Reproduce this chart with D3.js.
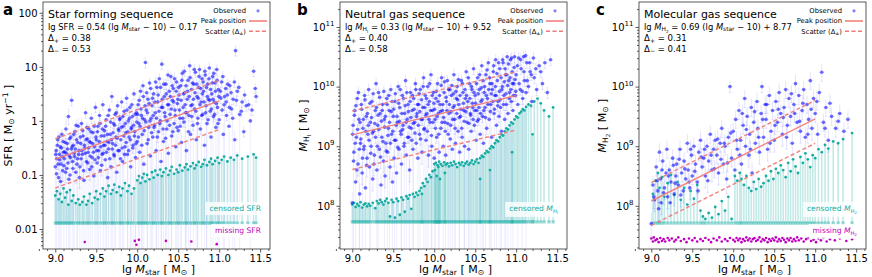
<!DOCTYPE html>
<html>
<head>
<meta charset="utf-8">
<script src="https://cdn.jsdelivr.net/npm/d3@7"></script>
<style>
  body { margin: 0; background: #fff; }
  svg { display: block; font-family: "DejaVu Sans", sans-serif; }
</style>
</head>
<body>
<svg id="chart" width="872" height="277"></svg>
<script>
// ---- data: [lg Mstar, lg value, lower error (dex)] ----
var obsA1 = [
[9.00,-0.85,3],[9.01,-0.55,.1],[9.02,-0.70,.2],[9.03,-0.35,.1],[9.04,-1.05,3],[9.05,-0.62,.15],[9.06,-0.48,.1],[9.07,-0.80,3],[9.08,-0.25,.1],[9.09,-0.92,.2],[9.10,-0.58,.1],
[9.11,-0.70,.15],[9.12,-0.40,.1],[9.13,-0.15,.2],[9.14,-0.88,3],[9.15,-0.52,.1],[9.16,0.08,.15],[9.17,-0.65,.1],[9.18,-1.00,3],[9.19,-0.30,.1],[9.20,0.38,.1],
[9.21,-0.75,.2],[9.22,-0.45,.1],[9.23,-0.60,3],[9.24,-0.20,.1],[9.25,-0.95,.2],[9.26,-0.35,.1],[9.27,-0.70,3],[9.28,-0.10,.15],[9.29,-0.55,.1],
[9.30,-0.85,3],[9.31,-0.42,.1],[9.32,-0.05,.1],[9.33,-0.62,.2],[9.34,-0.28,.1],[9.35,-1.10,3],[9.36,-0.50,.1],[9.37,0.15,.1],[9.38,-0.75,.2],[9.39,-0.33,.1],
[9.40,-0.58,3],[9.41,-0.15,.1],[9.42,-0.90,.2],[9.43,-0.40,.1],[9.44,0.05,.1],[9.45,-0.68,3],[9.46,-0.22,.1],[9.47,-1.02,.3],[9.48,-0.48,.1],[9.49,0.25,.1],
[9.50,-0.35,.1],[9.51,-0.78,3],[9.52,-0.10,.1],[9.53,-0.55,.2],[9.54,0.10,.1],[9.55,-0.92,3],[9.56,-0.28,.1],[9.57,-0.62,.2],[9.58,0.30,.1],[9.59,-0.45,.1],
[9.60,-0.18,.1],[9.61,-0.72,3],[9.62,0.02,.1],[9.63,-0.38,.15],[9.64,-1.05,.3],[9.65,-0.52,3],[9.66,0.20,.1],[9.67,-0.25,.1],[9.68,-0.85,3],[9.69,0.45,.1],
[9.70,-0.42,.15],[9.71,-0.05,.1],[9.72,-0.65,3],[9.73,0.12,.1],[9.74,-0.30,.1],[9.75,-0.95,.3],[9.76,0.28,.1],[9.77,-0.15,.1],[9.78,-0.55,3],[9.79,0.05,.1],
[9.80,-0.35,.1],[9.81,0.35,.1],[9.82,-0.75,3],[9.83,-0.10,.1],[9.84,0.18,.1],[9.85,-0.48,.2],[9.86,-0.22,.1],[9.87,0.42,.1],[9.88,-0.62,3],[9.89,0.00,.1],
[9.90,-0.30,.1],[9.91,0.25,.1],[9.92,-0.85,3],[9.93,-0.12,.1],[9.94,0.08,.1],[9.95,-0.45,3],[9.96,0.50,.1],[9.97,-0.20,.1],[9.98,-0.68,3],[9.99,0.15,.1],
[10.00,-0.38,.2],[10.01,0.30,.1],[10.02,-0.05,.1],[10.03,-0.58,3],[10.04,0.55,.1],[10.05,0.10,.1],[10.06,-0.25,3],[10.07,0.65,.1],[10.08,-0.80,3],[10.09,0.02,.1],[10.10,1.08,.1],
[10.11,0.20,.1],[10.12,-0.42,3],[10.13,0.40,.1],[10.14,-0.12,.1],[10.15,0.70,.1],[10.16,-0.65,3],[10.17,0.05,.1],[10.18,0.28,.1],[10.19,-0.30,3],
[10.20,0.50,.1],[10.21,-0.08,.1],[10.22,0.15,.1],[10.23,-0.55,3],[10.24,0.62,.1],[10.25,0.35,.1],[10.26,-0.20,3],[10.27,0.78,.1],[10.28,0.00,.1],[10.29,-0.75,3],
[10.30,1.05,.1],[10.31,0.25,.1],[10.32,-0.38,3],[10.33,0.45,.1],[10.34,0.08,.1],[10.35,0.68,.1],[10.36,-0.15,3],[10.37,0.30,.1],[10.38,-0.60,3],[10.39,0.55,.1],
[10.40,0.12,.1],[10.41,0.82,.1],[10.42,-0.28,3],[10.43,0.38,.1],[10.44,0.60,.1],[10.45,-0.05,.1],[10.46,0.20,.1],[10.47,-0.48,3],[10.48,0.72,.1],[10.49,0.32,.1],
[10.50,-0.18,3],[10.51,0.48,.1],[10.52,0.05,.1],[10.53,0.65,.1],[10.54,-0.40,3],[10.55,0.88,.1],[10.56,0.25,.1],[10.57,-0.02,.1],[10.58,0.52,.1],[10.59,0.15,3],
[10.60,-0.55,3],[10.61,0.40,.1],[10.62,0.75,.1],[10.63,0.10,.1],[10.64,1.02,.1],[10.65,-0.25,3],[10.66,0.58,.1],[10.67,0.30,.1],[10.68,-0.08,.1],[10.69,0.68,.1],
[10.70,0.22,.1],[10.71,0.90,.1],[10.72,-0.35,3],[10.73,0.45,.1],[10.74,0.05,3],[10.75,0.62,.1],[10.76,0.95,.1],[10.77,-0.15,.1],[10.78,0.35,.1],[10.79,0.78,.1],
[10.80,0.12,.1],[10.81,0.55,.1],[10.82,-0.45,3],[10.83,0.85,.1],[10.84,0.28,.1],[10.85,-0.05,3],[10.86,0.68,.1],[10.87,0.40,.1],[10.88,0.98,.1],[10.89,0.18,.1],
[10.90,-0.30,3],[10.91,0.50,.1],[10.92,0.82,.1],[10.93,0.08,.1],[10.94,0.35,.1],[10.95,0.70,.1],[10.96,-0.12,3],[10.97,0.95,.1],[10.98,0.25,.1],[10.99,0.58,.1],
[11.00,0.02,3],[11.02,0.42,.1],[11.03,0.72,.1],[11.05,-0.25,3],[11.06,0.30,.1],[11.08,0.60,.1],[11.09,0.10,.1],
[11.10,0.48,.1],[11.12,-0.10,3],[11.13,0.65,.1],[11.15,0.22,.1],[11.17,0.40,.1],[11.19,-0.35,3],
[11.20,1.30,.1],[11.22,0.55,.1],[11.25,0.12,3],[11.28,0.35,.1],[11.30,-0.20,.1],[11.33,0.28,.1],[11.38,0.00,3],[11.42,0.92,.1],[11.45,0.45,.1]
];
var obsA2 = [
[9.005,-0.62,.1],[9.015,-0.98,3],[9.025,-0.45,.1],[9.035,-0.80,.1],[9.045,-0.30,.1],[9.055,-0.72,3],[9.065,-1.12,.2],[9.075,-0.50,.1],[9.085,-0.66,.1],[9.095,-0.38,.1],
[9.105,-0.83,3],[9.115,-0.57,.1],[9.125,-0.95,.2],[9.135,-0.60,.1],[9.145,-0.42,.1],[9.155,-0.78,.1],[9.165,-1.08,3],[9.175,-0.33,.1],[9.185,-0.68,.1],[9.195,-0.52,.1],
[9.205,-0.48,.1],[9.215,-0.88,3],[9.225,-0.25,.1],[9.235,-0.66,.1],[9.245,-0.52,.2],[9.255,-0.08,.1],[9.265,-0.80,3],[9.275,-0.40,.1],[9.285,-0.62,.1],[9.295,-1.05,.2],
[9.305,-0.30,.1],[9.315,-0.70,.1],[9.325,-0.55,3],[9.335,-0.18,.1],[9.345,-0.92,.2],[9.355,-0.45,.1],[9.365,-0.60,.1],[9.375,-0.35,3],[9.385,-0.12,.1],[9.395,-0.78,.1],
[9.405,-0.50,.1],[9.415,-0.38,.1],[9.425,-0.65,3],[9.435,-0.20,.1],[9.445,-0.85,.1],[9.455,-0.42,.1],[9.465,-0.58,.2],[9.475,-0.10,.1],[9.485,-0.72,3],[9.495,-0.30,.1],
[9.505,-0.55,.1],[9.515,-0.20,.1],[9.525,-0.68,3],[9.535,-0.38,.1],[9.545,-0.05,.1],[9.555,-0.48,.1],[9.565,-0.82,.2],[9.575,-0.15,.1],[9.585,-0.60,3],[9.595,-0.28,.1],
[9.605,-0.45,.1],[9.615,-0.10,.1],[9.625,-0.58,3],[9.635,-0.25,.1],[9.645,0.10,.1],[9.655,-0.40,.1],[9.665,-0.70,.2],[9.675,-0.02,.1],[9.685,-0.35,.1],[9.695,-0.52,3],
[9.705,-0.22,.1],[9.715,-0.62,.1],[9.725,-0.08,.1],[9.735,-0.45,3],[9.745,0.15,.1],[9.755,-0.32,.1],[9.765,-0.55,.1],[9.775,-0.18,.1],[9.785,0.02,.1],[9.795,-0.70,3],
[9.805,-0.12,.1],[9.815,-0.50,.1],[9.825,0.08,.1],[9.835,-0.28,3],[9.845,-0.62,.1],[9.855,-0.05,.1],[9.865,-0.40,.1],[9.875,0.20,.1],[9.885,-0.20,3],[9.895,-0.55,.1],
[9.905,0.05,.1],[9.915,-0.35,.1],[9.925,-0.15,3],[9.935,0.30,.1],[9.945,-0.50,.1],[9.955,-0.08,.1],[9.965,-0.28,.1],[9.975,0.12,3],[9.985,-0.42,.1],[9.995,-0.02,.1],
[10.005,0.12,.1],[10.015,-0.30,3],[10.025,0.38,.1],[10.035,-0.10,.1],[10.045,0.22,.1],[10.055,-0.45,3],[10.065,0.05,.1],[10.075,0.45,.1],[10.085,-0.18,.1],[10.095,0.28,.1],
[10.105,-0.02,.1],[10.115,0.52,.1],[10.125,0.15,3],[10.135,-0.35,.1],[10.145,0.32,.1],[10.155,0.00,.1],[10.165,0.60,.1],[10.175,-0.22,3],[10.185,0.42,.1],[10.195,0.10,.1],
[10.205,-0.12,.1],[10.215,0.35,.1],[10.225,0.72,.1],[10.235,0.05,3],[10.245,-0.30,.1],[10.255,0.48,.1],[10.265,0.18,.1],[10.275,-0.05,.1],[10.285,0.62,.1],[10.295,0.25,3],
[10.305,0.40,.1],[10.315,-0.15,.1],[10.325,0.68,.1],[10.335,0.15,.1],[10.345,-0.32,3],[10.355,0.50,.1],[10.365,0.00,.1],[10.375,0.85,.1],[10.385,0.30,.1],[10.395,-0.08,.1],
[10.405,0.45,.1],[10.415,0.22,3],[10.425,0.65,.1],[10.435,-0.20,.1],[10.445,0.35,.1],[10.455,0.78,.1],[10.465,0.10,.1],[10.475,0.55,.1],[10.485,-0.12,3],[10.495,0.40,.1],
[10.505,0.62,.1],[10.515,0.20,.1],[10.525,-0.10,3],[10.535,0.38,.1],[10.545,0.75,.1],[10.555,0.05,.1],[10.565,0.50,.1],[10.575,0.92,.1],[10.585,0.30,3],[10.595,0.65,.1],
[10.605,0.15,.1],[10.615,0.55,.1],[10.625,-0.20,3],[10.635,0.45,.1],[10.645,0.80,.1],[10.655,0.28,.1],[10.665,0.08,.1],[10.675,0.70,.1],[10.685,0.40,3],[10.695,0.95,.1],
[10.705,0.52,.1],[10.715,0.18,.1],[10.725,0.68,.1],[10.735,-0.05,3],[10.745,0.42,.1],[10.755,0.82,.1],[10.765,0.30,.1],[10.775,0.60,.1],[10.785,0.10,3],[10.795,0.50,.1],
[10.805,0.72,.1],[10.815,0.35,.1],[10.825,0.92,.1],[10.835,0.15,.1],[10.845,0.62,3],[10.855,0.45,.1],[10.865,0.02,.1],[10.875,0.78,.1],[10.885,0.38,.1],[10.895,0.58,.1],
[10.905,0.22,.1],[10.915,0.70,.1],[10.925,0.40,3],[10.935,0.88,.1],[10.945,0.12,.1],[10.955,0.55,.1],[10.965,0.32,.1],[10.975,0.75,.1],[10.985,-0.05,3],[10.995,0.45,.1],
[11.015,0.55,.1],[11.035,0.20,.1],[11.045,0.82,.1],[11.065,0.45,3],[11.085,0.35,.1],[11.105,0.68,.1],[11.125,0.25,.1],[11.145,0.52,.1],[11.165,0.05,3],[11.185,0.72,.1],
[11.21,0.38,.1],[11.24,0.62,.1],[11.27,0.18,.1],[11.31,0.48,.1],[11.36,0.30,.1],[11.40,0.20,.1],[11.44,0.60,.1]
];
var censA = [
[9.00,-1.38],[9.02,-1.30],[9.04,-1.45],[9.06,-1.35],[9.08,-1.50],[9.10,-1.25],[9.12,-1.42],[9.14,-1.32],[9.16,-1.55],[9.18,-1.28],[9.20,-1.48],[9.22,-1.38],
[9.25,-1.52],[9.28,-1.45],[9.30,-1.55],[9.33,-1.50],[9.35,-1.40],[9.38,-1.55],[9.40,-1.48],[9.42,-1.35],[9.45,-1.52],[9.48,-1.42],[9.50,-1.30],[9.52,-1.45],
[9.55,-1.35],[9.58,-1.25],[9.60,-1.40],[9.62,-1.30],[9.65,-1.20],[9.68,-1.35],[9.70,-1.28],[9.72,-1.18],[9.75,-1.32],[9.78,-1.22],[9.80,-1.38],[9.82,-1.25],
[9.85,-1.15],[9.88,-1.30],[9.90,-1.20],[9.93,-1.35],[9.96,-1.25],[10.00,-1.10],[10.02,-1.02],[10.04,-1.15],[10.06,-1.05],[10.08,-0.98],[10.10,-1.12],[10.12,-1.00],
[10.15,-1.08],[10.18,-0.95],[10.20,-1.05],[10.22,-0.92],[10.25,-1.00],[10.28,-0.90],[10.30,-1.02],[10.32,-0.95],[10.35,-0.88],[10.38,-1.00],[10.40,-0.92],[10.42,-0.85],
[10.45,-0.98],[10.48,-0.90],[10.50,-0.95],[10.52,-0.82],[10.55,-0.92],[10.58,-0.86],[10.60,-0.80],[10.62,-0.90],[10.65,-0.84],[10.68,-0.78],[10.70,-0.88],[10.72,-0.82],
[10.75,-0.76],[10.78,-0.85],[10.80,-0.80],[10.82,-0.72],[10.85,-0.82],[10.88,-0.76],[10.90,-0.70],[10.92,-0.80],[10.95,-0.74],[10.98,-0.68],[11.00,-0.78],[11.03,-0.72],
[11.06,-0.66],[11.10,-0.75],[11.14,-0.68],[11.18,-0.72],[11.22,-0.64],[11.28,-0.70],[11.35,-0.66],[11.42,-0.62],[11.45,-0.68]
];
var missA = [[9.36,-2.24],[9.97,-2.22],[9.99,-2.29],[10.02,-2.20],[10.35,-2.22],[10.66,-2.23],[10.97,-2.28]];

var obsB1 = [
[9.00,8.05,3],[9.01,9.35,.1],[9.02,8.90,.15],[9.03,9.60,.1],[9.04,8.40,3],[9.05,9.15,.1],[9.06,9.80,.1],[9.07,8.70,.2],[9.08,9.45,.1],[9.09,8.20,3],[9.10,9.05,.1],
[9.11,9.70,.1],[9.12,8.55,.2],[9.13,9.30,.1],[9.14,8.95,.1],[9.15,9.85,.1],[9.16,8.30,3],[9.17,9.50,.1],[9.18,8.80,.15],[9.19,9.20,.1],
[9.20,9.95,.1],[9.21,8.65,3],[9.22,9.40,.1],[9.23,9.00,.1],[9.24,9.75,.1],[9.25,8.45,.2],[9.26,9.25,.1],[9.27,8.85,.1],[9.28,9.60,.1],[9.29,10.05,.1],
[9.30,8.60,3],[9.31,9.35,.1],[9.32,9.90,.1],[9.33,8.95,.15],[9.34,9.55,.1],[9.35,8.35,.3],[9.36,9.15,.1],[9.37,9.70,.1],[9.38,8.75,.2],[9.39,9.45,.1],
[9.40,8.50,.2],[9.41,9.05,.1],[9.42,9.80,.1],[9.43,8.90,3],[9.44,9.30,.1],[9.45,9.60,.1],[9.46,8.65,.2],[9.47,9.95,.1],[9.48,9.20,.1],[9.49,8.40,3],
[9.50,9.50,.1],[9.51,8.80,.15],[9.52,9.75,.1],[9.53,9.10,.1],[9.54,8.55,3],[9.55,9.40,.1],[9.56,10.00,.1],[9.57,8.95,.1],[9.58,9.65,.1],[9.59,9.25,.1],
[9.60,8.70,3],[9.61,9.85,.1],[9.62,9.35,.1],[9.63,9.00,.15],[9.64,9.55,.1],[9.65,10.10,.1],[9.66,8.85,3],[9.67,9.45,.1],[9.68,9.70,.1],[9.69,9.15,.1],
[9.70,8.60,.2],[9.71,9.90,.1],[9.72,9.30,.1],[9.73,9.60,.1],[9.74,8.95,3],[9.75,9.80,.1],[9.76,9.40,.1],[9.77,10.05,.1],[9.78,9.05,.15],[9.79,9.55,.1],
[9.80,8.80,3],[9.81,9.70,.1],[9.82,9.20,.1],[9.83,9.95,.1],[9.84,9.45,.1],[9.85,8.90,.2],[9.86,9.65,.1],[9.87,10.15,.1],[9.88,9.30,.1],[9.89,9.85,.1],
[9.90,9.10,3],[9.91,9.55,.1],[9.92,10.00,.1],[9.93,8.85,.2],[9.94,9.75,.1],[9.95,9.40,.1],[9.96,10.20,.1],[9.97,9.00,3],[9.98,9.60,.1],[9.99,9.90,.1],
[10.00,8.80,3],[10.01,9.45,.1],[10.02,9.80,.1],[10.03,9.15,.1],[10.04,10.05,.1],[10.05,9.55,.1],[10.06,8.90,3],[10.07,9.70,.1],[10.08,9.30,.1],[10.09,10.15,.1],
[10.10,9.60,.1],[10.11,9.00,3],[10.12,9.90,.1],[10.13,9.40,.1],[10.14,8.85,.2],[10.15,9.75,.1],[10.16,10.10,.1],[10.17,9.20,3],[10.18,9.55,.1],[10.19,9.95,.1],
[10.20,9.35,.1],[10.21,9.85,.1],[10.22,8.95,3],[10.23,9.65,.1],[10.24,10.20,.1],[10.25,9.45,.1],[10.26,9.05,3],[10.27,9.80,.1],[10.28,10.00,.1],[10.29,9.25,.1],
[10.30,9.70,.1],[10.31,8.90,3],[10.32,9.50,.1],[10.33,10.10,.1],[10.34,9.15,.1],[10.35,9.90,.1],[10.36,9.60,.1],[10.37,9.00,3],[10.38,9.80,.1],[10.39,10.25,.1],
[10.40,9.40,.1],[10.41,9.75,.1],[10.42,8.95,3],[10.43,10.05,.1],[10.44,9.55,.1],[10.45,9.25,3],[10.46,9.95,.1],[10.47,9.65,.1],[10.48,10.30,.1],[10.49,9.35,.1],
[10.50,9.85,.1],[10.51,9.10,3],[10.52,9.60,.1],[10.53,10.15,.1],[10.54,9.45,.1],[10.55,9.95,.1],[10.56,9.20,3],[10.57,9.75,.1],[10.58,10.35,.1],[10.59,9.50,.1],
[10.60,9.05,3],[10.61,9.90,.1],[10.62,9.65,.1],[10.63,10.20,.1],[10.64,9.30,.1],[10.65,9.80,.1],[10.66,10.40,.1],[10.67,9.45,3],[10.68,10.05,.1],[10.69,9.70,.1],
[10.70,9.15,3],[10.71,9.95,.1],[10.72,10.25,.1],[10.73,9.55,.1],[10.74,9.85,.1],[10.75,10.45,.1],[10.76,9.35,3],[10.77,10.10,.1],[10.78,9.75,.1],[10.79,9.50,.1],
[10.80,10.30,.1],[10.81,9.65,.1],[10.82,9.25,3],[10.83,10.00,.1],[10.84,10.40,.1],[10.85,9.85,.1],[10.86,9.45,3],[10.87,10.20,.1],[10.88,9.70,.1],[10.89,10.50,.1],
[10.90,9.55,3],[10.91,10.10,.1],[10.92,9.90,.1],[10.93,10.45,.1],[10.94,9.75,.1],[10.95,10.25,.1],[10.96,9.60,3],[10.97,10.05,.1],[10.98,10.50,.1],[10.99,9.85,.1],
[11.00,10.20,.1],[11.02,9.70,3],[11.03,10.48,.1],[11.05,9.95,.1],[11.06,10.30,.1],[11.08,9.80,.1],[11.09,10.50,.1],[11.10,10.10,.1],[11.12,9.90,3],[11.13,10.40,.1],
[11.15,10.00,.1],[11.17,10.25,.1],[11.19,9.75,.1],[11.22,10.15,.1],[11.25,9.95,.1],[11.28,10.35,.1],[11.32,10.05,.1],[11.38,9.90,.1],[11.42,10.45,.1]
];
var obsB2 = [
[9.005,9.20,.1],[9.015,8.75,3],[9.025,9.52,.1],[9.035,9.05,.1],[9.045,9.68,.1],[9.055,8.60,.2],[9.065,9.28,.1],[9.075,9.90,.1],[9.085,8.95,3],[9.095,9.40,.1],
[9.105,9.12,.1],[9.115,9.62,.1],[9.125,8.80,3],[9.135,9.45,.1],[9.145,9.00,.1],[9.155,9.78,.1],[9.165,9.25,.1],[9.175,8.68,.2],[9.185,9.55,.1],[9.195,9.35,.1],
[9.205,9.10,.1],[9.215,9.72,.1],[9.225,8.88,3],[9.235,9.48,.1],[9.245,9.22,.1],[9.255,9.88,.1],[9.265,8.70,.2],[9.275,9.38,.1],[9.285,9.15,.1],[9.295,9.65,.1],
[9.305,9.00,.1],[9.315,9.52,3],[9.325,9.28,.1],[9.335,9.82,.1],[9.345,8.82,.2],[9.355,9.42,.1],[9.365,9.60,.1],[9.375,9.08,.1],[9.385,9.92,.1],[9.395,9.32,3],
[9.405,9.50,.1],[9.415,8.92,.1],[9.425,9.70,.1],[9.435,9.18,.1],[9.445,9.85,.1],[9.455,9.40,3],[9.465,9.05,.1],[9.475,9.58,.1],[9.485,9.75,.1],[9.495,9.25,.1],
[9.505,9.62,.1],[9.515,9.10,3],[9.525,9.88,.1],[9.535,9.35,.1],[9.545,9.50,.1],[9.555,8.98,.2],[9.565,9.72,.1],[9.575,9.42,.1],[9.585,9.95,.1],[9.595,9.20,3],
[9.605,9.55,.1],[9.615,9.28,.1],[9.625,9.80,.1],[9.635,9.05,3],[9.645,9.68,.1],[9.655,9.40,.1],[9.665,9.90,.1],[9.675,9.15,.1],[9.685,9.58,.1],[9.695,9.32,3],
[9.705,9.75,.1],[9.715,9.48,.1],[9.725,9.10,.1],[9.735,9.85,.1],[9.745,9.38,3],[9.755,9.62,.1],[9.765,9.22,.1],[9.775,9.95,.1],[9.785,9.50,.1],[9.795,9.70,.1],
[9.805,9.35,.1],[9.815,9.88,.1],[9.825,9.58,3],[9.835,9.12,.1],[9.845,9.78,.1],[9.855,9.45,.1],[9.865,10.00,.1],[9.875,9.28,3],[9.885,9.65,.1],[9.895,9.52,.1],
[9.905,9.80,.1],[9.915,9.25,.1],[9.925,9.70,3],[9.935,9.45,.1],[9.945,10.05,.1],[9.955,9.60,.1],[9.965,9.18,3],[9.975,9.85,.1],[9.985,9.40,.1],[9.995,9.72,.1],
[10.005,9.62,.1],[10.015,9.30,3],[10.025,9.92,.1],[10.035,9.50,.1],[10.045,9.75,.1],[10.055,9.20,3],[10.065,9.85,.1],[10.075,9.58,.1],[10.085,10.02,.1],[10.095,9.40,.1],
[10.105,9.70,.1],[10.115,9.48,.1],[10.125,10.08,.1],[10.135,9.25,3],[10.145,9.82,.1],[10.155,9.60,.1],[10.165,9.38,.1],[10.175,9.95,.1],[10.185,9.70,.1],[10.195,9.12,3],
[10.205,9.58,.1],[10.215,10.02,.1],[10.225,9.45,.1],[10.235,9.88,.1],[10.245,9.68,3],[10.255,9.30,.1],[10.265,9.92,.1],[10.275,9.55,.1],[10.285,9.78,.1],[10.295,10.12,.1],
[10.305,9.48,3],[10.315,9.85,.1],[10.325,9.62,.1],[10.335,9.30,.1],[10.345,10.05,.1],[10.355,9.72,.1],[10.365,9.42,3],[10.375,9.95,.1],[10.385,9.58,.1],[10.395,9.85,.1],
[10.405,9.65,.1],[10.415,10.15,.1],[10.425,9.38,3],[10.435,9.80,.1],[10.445,9.52,.1],[10.455,10.00,.1],[10.465,9.72,.1],[10.475,9.45,3],[10.485,9.90,.1],[10.495,9.60,.1],
[10.505,9.72,.1],[10.515,10.05,.1],[10.525,9.42,3],[10.535,9.88,.1],[10.545,9.65,.1],[10.555,10.20,.1],[10.565,9.55,.1],[10.575,9.98,.1],[10.585,9.78,3],[10.595,10.10,.1],
[10.605,9.60,.1],[10.615,10.00,.1],[10.625,9.48,3],[10.635,9.85,.1],[10.645,10.28,.1],[10.655,9.70,.1],[10.665,9.95,.1],[10.675,10.15,.1],[10.685,9.58,3],[10.695,9.88,.1],
[10.705,10.05,.1],[10.715,9.75,.1],[10.725,10.35,.1],[10.735,9.62,3],[10.745,10.00,.1],[10.755,9.85,.1],[10.765,10.22,.1],[10.775,9.68,.1],[10.785,10.40,.1],[10.795,9.92,.1],
[10.805,9.78,3],[10.815,10.15,.1],[10.825,9.95,.1],[10.835,10.45,.1],[10.845,9.70,.1],[10.855,10.08,.1],[10.865,10.30,.1],[10.875,9.88,3],[10.885,10.20,.1],[10.895,10.02,.1],
[10.905,10.38,.1],[10.915,9.80,.1],[10.925,10.15,.1],[10.935,9.95,3],[10.945,10.48,.1],[10.955,10.05,.1],[10.965,9.85,.1],[10.975,10.32,.1],[10.985,10.12,.1],[10.995,9.92,.1],
[11.015,10.35,.1],[11.035,10.05,.1],[11.055,10.45,.1],[11.075,9.92,3],[11.095,10.25,.1],[11.115,10.52,.1],[11.135,10.10,.1],[11.165,10.40,.1],[11.185,10.20,.1],
[11.21,10.48,.1],[11.24,10.30,.1],[11.30,10.25,.1],[11.35,10.40,.1]
];
var censB = [
[9.00,8.02],[9.02,8.05],[9.04,7.98],[9.06,8.03],[9.08,8.00],[9.10,8.06],[9.12,7.97],[9.14,8.02],[9.16,8.04],[9.18,7.99],[9.20,8.03],[9.22,8.00],[9.25,8.05],
[9.28,7.96],[9.30,8.08],[9.32,8.04],[9.34,8.10],[9.36,8.06],[9.38,8.02],[9.40,8.08],[9.42,8.12],[9.44,8.05],[9.46,7.82],[9.48,8.10],[9.50,8.06],[9.52,7.80],
[9.54,8.12],[9.56,8.08],[9.58,7.85],[9.60,8.14],[9.62,8.10],[9.64,7.90],[9.66,8.16],[9.68,8.12],[9.70,8.18],[9.72,7.95],[9.74,8.20],[9.76,8.15],[9.78,8.22],
[9.80,8.18],[9.82,8.25],[9.84,8.30],[9.85,8.20],[9.86,8.38],[9.88,8.33],[9.90,8.45],[9.92,8.40],[9.94,8.52],[9.96,8.48],[9.98,8.58],
[10.00,8.70],[10.01,8.60],[10.02,8.72],[10.03,8.50],[10.04,8.68],[10.05,8.65],[10.06,8.74],[10.07,8.45],[10.08,8.70],[10.10,8.67],[10.12,8.73],[10.13,8.55],
[10.14,8.69],[10.16,8.71],[10.18,8.66],[10.20,8.72],[10.22,8.68],[10.24,8.74],[10.26,8.70],[10.28,8.65],[10.30,8.72],[10.32,8.69],[10.34,8.73],[10.36,8.67],
[10.38,8.71],[10.40,8.74],[10.42,8.69],[10.44,8.72],[10.46,8.76],[10.48,8.70],[10.50,8.74],[10.52,8.78],[10.54,8.72],[10.56,8.80],[10.56,8.45],[10.58,8.84],
[10.60,8.82],[10.62,8.88],[10.64,8.92],[10.66,8.90],[10.68,8.96],[10.68,8.60],[10.70,9.00],[10.72,8.98],[10.74,9.05],[10.76,9.10],[10.78,9.08],[10.80,9.15],
[10.82,9.20],[10.84,9.18],[10.86,9.25],[10.88,9.30],[10.90,9.28],[10.92,9.35],[10.94,9.40],[10.95,8.90],[10.96,9.38],[10.98,9.45],[11.00,9.50],[11.02,9.48],
[11.04,9.55],[11.06,9.58],[11.08,9.62],[11.10,9.60],[11.12,9.66],[11.15,9.70],[11.18,9.68],[11.20,9.20],[11.22,9.75],[11.26,9.80],[11.30,9.72],[11.34,9.60],
[11.40,9.50],[11.45,9.65]
];
var missB = [];

var obsC1 = [
[9.00,7.70,.25],[9.02,8.35,.15],[9.04,8.10,.2],[9.06,8.65,.15],[9.08,8.25,.2],[9.10,8.90,.15],
[9.11,8.45,.15],[9.12,8.05,.2],[9.14,8.75,.15],[9.16,8.30,.2],[9.18,8.55,.15],[9.19,8.95,.15],
[9.20,8.15,.2],[9.22,8.60,.15],[9.24,8.40,.15],[9.26,8.80,.15],[9.28,8.20,.2],
[9.30,8.50,.15],[9.31,8.70,.15],[9.33,8.35,.2],[9.35,8.95,.15],[9.37,8.55,.15],[9.39,8.25,.2],
[9.40,8.75,.15],[9.42,8.45,.15],[9.44,9.05,.15],[9.45,8.60,.15],[9.47,8.30,.2],[9.49,8.85,.15],
[9.50,8.50,.15],[9.52,9.00,.15],[9.54,8.70,.15],[9.56,8.40,.2],[9.58,8.90,.15],
[9.60,9.10,.15],[9.62,8.65,.15],[9.64,8.80,.15],[9.66,8.50,.2],[9.68,9.00,.15],
[9.70,8.75,.15],[9.72,9.20,.15],[9.74,8.60,.2],[9.76,8.95,.15],[9.78,9.10,.15],
[9.80,8.85,.15],[9.82,8.55,.2],[9.84,9.05,.15],[9.86,9.30,.15],[9.88,8.70,.15],
[9.90,9.00,.15],[9.92,8.45,.25],[9.94,9.15,.15],[9.96,10.00,.1],[9.98,8.80,.15],
[10.00,9.25,.15],[10.02,8.60,.2],[10.03,9.45,.15],[10.05,8.95,.15],[10.07,9.60,.15],[10.09,9.10,.15],
[10.10,8.70,.2],[10.12,9.35,.15],[10.14,9.80,.15],[10.15,9.00,.15],[10.17,9.50,.15],[10.19,8.85,.2],
[10.20,9.20,.15],[10.22,9.65,.15],[10.23,8.55,.25],[10.25,9.40,.15],[10.27,9.05,.15],[10.29,9.75,.15],
[10.30,9.30,.15],[10.32,8.90,.2],[10.34,9.55,.15],[10.35,10.00,.1],[10.37,9.15,.15],[10.39,9.70,.15],
[10.40,9.45,.15],[10.42,8.95,.2],[10.44,9.85,.15],[10.46,9.25,.15],[10.48,9.60,.15],
[10.50,9.10,.2],[10.52,9.75,.15],[10.54,9.40,.15],[10.56,9.90,.15],[10.58,9.55,.15],
[10.60,9.20,.2],[10.62,9.65,.15],[10.64,9.95,.15],[10.66,9.35,.15],[10.68,9.80,.15],
[10.70,9.50,.15],[10.72,9.05,.2],[10.74,9.70,.15],[10.76,10.05,.15],[10.78,9.40,.15],
[10.80,9.85,.15],[10.82,9.25,.2],[10.84,9.60,.15],[10.86,9.95,.15],[10.88,9.15,.2],
[10.90,9.70,.15],[10.92,9.45,.15],[10.94,10.10,.15],[10.96,9.30,.2],[10.98,9.80,.15],
[11.00,9.55,.15],[11.03,9.20,.2],[11.05,9.90,.15],[11.08,10.24,.15],[11.10,9.40,.15],[11.13,9.65,.15],
[11.16,9.10,.2],[11.20,9.50,.15],[11.25,9.30,.15],[11.30,9.55,.15],[11.35,9.25,.15],[11.40,9.45,.15]
];
var obsC2 = [
[9.03,8.15,.2],[9.07,8.42,.15],[9.09,7.95,.2],[9.13,8.60,.15],[9.15,8.22,.2],[9.21,8.50,.15],[9.23,8.05,.2],[9.27,8.68,.15],[9.29,8.38,.15],[9.34,8.78,.15],
[9.36,8.18,.2],[9.41,8.62,.15],[9.46,8.40,.15],[9.48,8.95,.15],[9.53,8.58,.15],[9.57,8.25,.2],[9.61,8.82,.15],[9.65,8.95,.15],[9.69,8.42,.2],[9.73,8.85,.15],
[9.77,8.62,.15],[9.81,9.12,.15],[9.85,8.78,.15],[9.89,9.05,.15],[9.93,8.72,.15],[9.97,9.22,.15],[10.04,9.10,.15],[10.08,8.85,.15],[10.11,9.55,.15],[10.16,9.28,.15],
[10.21,8.95,.15],[10.26,9.58,.15],[10.31,9.15,.15],[10.36,9.45,.15],[10.41,9.70,.15],[10.45,9.05,.15],[10.51,9.35,.15],[10.55,9.62,.15],[10.61,9.48,.15],[10.65,9.15,.2],
[10.71,9.88,.15],[10.75,9.55,.15],[10.81,9.42,.15],[10.85,9.72,.15],[10.91,9.20,.15],[10.95,9.62,.15],[11.02,9.75,.15],[11.12,9.30,.15],[11.18,9.72,.15],[11.28,9.42,.15]
];
var censC = [
[9.02,8.20],[9.05,8.42],[9.08,8.55],[9.10,8.30],[9.13,8.48],[9.16,8.15],[9.20,8.38],[9.24,8.52],[9.28,8.18],[9.32,8.40],[9.36,8.10],[9.40,8.30],
[9.44,8.02],[9.48,8.25],[9.52,8.12],[9.56,8.35],[9.60,7.92],[9.63,7.82],[9.66,7.78],[9.70,7.88],[9.74,7.80],[9.78,7.98],[9.82,7.86],[9.86,8.08],
[9.90,7.92],[9.94,8.15],[9.98,7.78],[10.02,8.50],[10.05,8.42],[10.08,8.55],[10.10,8.45],[10.13,8.35],[10.16,8.50],[10.19,8.30],[10.22,8.25],[10.25,8.40],
[10.28,8.28],[10.31,8.45],[10.34,8.32],[10.37,8.38],[10.40,8.50],[10.43,8.42],[10.46,8.58],[10.49,8.45],[10.52,8.62],[10.55,8.55],[10.58,8.68],[10.61,8.60],
[10.64,8.48],[10.67,8.72],[10.70,8.58],[10.73,8.78],[10.76,8.66],[10.79,8.55],[10.82,8.82],[10.85,8.72],[10.88,8.88],[10.91,8.78],[10.94,8.65],[10.97,8.85],
[11.00,8.80],[11.04,8.95],[11.08,8.90],[11.12,9.02],[11.16,8.96],[11.22,9.08],[11.28,9.05],[11.34,9.12],[11.45,9.22]
];
var missC = [
[9.00,7.45],[9.02,7.40],[9.03,7.47],[9.05,7.42],[9.07,7.44],[9.09,7.39],[9.11,7.46],[9.13,7.41],[9.15,7.44],[9.17,7.40],[9.20,7.46],[9.22,7.42],
[9.25,7.45],[9.28,7.40],[9.30,7.43],[9.33,7.47],[9.36,7.41],[9.40,7.44],[9.43,7.39],[9.46,7.45],[9.50,7.42],[9.53,7.46],[9.56,7.40],[9.60,7.44],
[9.63,7.41],[9.66,7.46],[9.70,7.43],[9.73,7.39],[9.76,7.45],[9.80,7.42],[9.83,7.47],[9.86,7.40],[9.90,7.44],[9.93,7.41],[9.96,7.46],[10.00,7.43],
[10.02,7.40],[10.04,7.46],[10.06,7.42],[10.08,7.45],[10.10,7.39],[10.12,7.44],[10.14,7.41],[10.16,7.47],[10.18,7.42],[10.20,7.45],[10.22,7.40],
[10.24,7.44],[10.26,7.46],[10.28,7.41],[10.30,7.43],[10.32,7.47],[10.34,7.40],[10.36,7.44],[10.38,7.42],[10.40,7.46],[10.42,7.39],[10.44,7.44],
[10.46,7.41],[10.48,7.45],[10.50,7.42],[10.52,7.47],[10.54,7.40],[10.56,7.44],[10.58,7.41],[10.60,7.46],[10.62,7.43],[10.64,7.39],[10.66,7.45],
[10.68,7.42],[10.70,7.46],[10.72,7.40],[10.74,7.44],[10.76,7.41],[10.78,7.47],[10.80,7.42],[10.83,7.45],[10.86,7.40],[10.89,7.44],[10.92,7.46],
[10.95,7.41],[10.98,7.43],[11.01,7.39],[11.04,7.45],[11.07,7.42],[11.10,7.46],[11.14,7.40],[11.18,7.44],[11.24,7.42],[11.30,7.45],[11.38,7.41],[11.45,7.44]
];

// fits: slope, intercept at lg Mstar = 10, delta+, delta-
var fitA = [0.54, -0.17, 0.38, 0.53];
var fitB = [0.33, 9.52, 0.40, 0.58];
var fitC = [0.69, 8.77, 0.31, 0.41];
var fitRange = [9.0, 11.0];
// level where censored values are parked (lg units)
var censBase = [-1.89, 7.73, 7.71];

var xTicks = [9.0, 9.5, 10.0, 10.5, 11.0, 11.5];
var yTicksA = [0.01, 0.1, 1, 10, 100];
var yTickLabelsA = ["0.01", "0.1", "1", "10", "100"];
var yTicksGas = [1e8, 1e9, 1e10, 1e11];

// ---- layout ----
var BLUE = "#0000ff", TEAL = "#17ada3", MAG = "#bf00bf", FIT = "#f07a74";
var plotTop = 2, plotBottom = 249, pw = 227;
var svg = d3.select("#chart");
var noLabel = function() { return ""; };

// text with math-like sub/superscripts; kinds: n, i (italic), b (sub), bb (sub of sub), p (sup)
function rich(g, x, y, segs, size, anchor) {
  var t = g.append("text").attr("x", x).attr("y", y)
    .attr("font-size", size).attr("text-anchor", anchor || "start");
  var cur = 0;
  segs.forEach(function(s) {
    var k = s[1] || "n";
    var off = k == "b" ? 0.22 : k == "bb" ? 0.38 : k == "p" ? -0.4 : 0;
    var fs = k == "b" || k == "p" ? 0.7 : k == "bb" ? 0.5 : 1;
    var ts = t.append("tspan").attr("font-size", size * fs).attr("dy", (off - cur) * size).text(s[0]);
    if (k == "i") ts.attr("font-style", "italic");
    cur = off;
  });
  return t;
}

var mstar = [["lg "], ["M", "i"], ["star", "b"]];

var panels = [
  { id: "a", left: 43, obs: obsA1.concat(obsA2), cens: censA, miss: missA, fit: fitA, base: censBase[0],
    ydom: [-2.37, 2.2], title: "Star forming sequence",
    eq: [["lg SFR = 0.54 (lg "], ["M", "i"], ["star", "b"], [" \u2212 10) \u2212 0.17"]],
    dp: "0.38", dm: "0.53",
    ylab: [["SFR [ M"], ["\u2299", "b"], [" yr"], ["\u22121", "p"], [" ]"]],
    cens_lab: [["censored SFR"]], miss_lab: [["missing SFR"]] },
  { id: "b", left: 340, obs: obsB1.concat(obsB2), cens: censB, miss: missB, fit: fitB, base: censBase[1],
    ydom: [7.275, 11.42], title: "Neutral gas sequence",
    eq: [["lg "], ["M", "i"], ["H", "b"], ["I", "bb"], [" = 0.33 (lg "], ["M", "i"], ["star", "b"], [" \u2212 10) + 9.52"]],
    dp: "0.40", dm: "0.58",
    ylab: [["M", "i"], ["H", "b"], ["I", "bb"], [" [ M"], ["\u2299", "b"], [" ]"]],
    cens_lab: [["censored "], ["M", "i"], ["H", "b"], ["I", "bb"]], miss_lab: null },
  { id: "c", left: 639, obs: obsC1.concat(obsC2), cens: censC, miss: missC, fit: fitC, base: censBase[2],
    ydom: [7.275, 11.42], title: "Molecular gas sequence",
    eq: [["lg "], ["M", "i"], ["H", "b"], ["2", "bb"], [" = 0.69 (lg "], ["M", "i"], ["star", "b"], [" \u2212 10) + 8.77"]],
    dp: "0.31", dm: "0.41",
    ylab: [["M", "i"], ["H", "b"], ["2", "bb"], [" [ M"], ["\u2299", "b"], [" ]"]],
    cens_lab: [["censored "], ["M", "i"], ["H", "b"], ["2", "bb"]], miss_lab: [["missing "], ["M", "i"], ["H", "b"], ["2", "bb"]] }
];

panels.forEach(function(p) {
  var right = p.left + pw;
  var x = d3.scaleLinear().domain([8.85, 11.62]).range([p.left, right]);
  var y = d3.scaleLog().domain([Math.pow(10, p.ydom[0]), Math.pow(10, p.ydom[1])]).range([plotBottom, plotTop]);
  var Y = function(v) { return y(Math.pow(10, v)); };
  var g = svg.append("g");

  svg.append("clipPath").attr("id", "clip" + p.id).append("rect")
    .attr("x", p.left).attr("y", plotTop).attr("width", pw).attr("height", plotBottom - plotTop);
  var plot = g.append("g").attr("clip-path", "url(#clip" + p.id + ")");

  // censored: vertical lines down to parking level
  plot.append("g").selectAll("line").data(p.cens).join("line")
    .attr("x1", function(d) { return x(d[0]); }).attr("x2", function(d) { return x(d[0]); })
    .attr("y1", function(d) { return Y(d[1]); }).attr("y2", Y(p.base))
    .attr("stroke", TEAL).attr("stroke-opacity", 0.26).attr("stroke-width", 1.6);

  // observed error bars
  var eb = plot.append("g").attr("stroke", BLUE).attr("stroke-width", 1);
  eb.selectAll("line.v").data(p.obs).join("line").attr("class", "v")
    .attr("x1", function(d) { return x(d[0]); }).attr("x2", function(d) { return x(d[0]); })
    .attr("y1", function(d) { return Y(d[1] - d[2]); }).attr("y2", function(d) { return Y(d[1] + Math.min(d[2], 0.18)); })
    .attr("stroke-opacity", function(d) { return d[2] > 1 ? 0.07 : 0.11; });
  eb.selectAll("line.h").data(p.obs).join("line").attr("class", "h")
    .attr("x1", function(d) { return x(d[0] - 0.035); }).attr("x2", function(d) { return x(d[0] + 0.035); })
    .attr("y1", function(d) { return Y(d[1]); }).attr("y2", function(d) { return Y(d[1]); })
    .attr("stroke-opacity", 0.1);
  eb.selectAll("line.c").data(p.obs.filter(function(d) { return d[2] < 1; })).join("line").attr("class", "c")
    .attr("x1", function(d) { return x(d[0]) - 1.5; }).attr("x2", function(d) { return x(d[0]) + 1.5; })
    .attr("y1", function(d) { return Y(d[1] - d[2]); }).attr("y2", function(d) { return Y(d[1] - d[2]); })
    .attr("stroke-opacity", 0.1);

  // censored markers: parking row + the limits themselves
  plot.append("g").selectAll("rect").data(p.cens).join("rect")
    .attr("x", function(d) { return x(d[0]) - 1.6; }).attr("y", Y(p.base) - 1.6)
    .attr("width", 3.2).attr("height", 3.2).attr("fill", TEAL).attr("opacity", 0.45);
  plot.append("g").selectAll("circle").data(p.cens).join("circle")
    .attr("cx", function(d) { return x(d[0]); }).attr("cy", function(d) { return Y(d[1]); })
    .attr("r", 1.4).attr("fill", TEAL);

  // observed points
  plot.append("g").selectAll("circle").data(p.obs).join("circle")
    .attr("cx", function(d) { return x(d[0]); }).attr("cy", function(d) { return Y(d[1]); })
    .attr("r", 1.8).attr("fill", BLUE).attr("fill-opacity", 0.55);

  // missing
  plot.append("g").selectAll("circle").data(p.miss).join("circle")
    .attr("cx", function(d) { return x(d[0]); }).attr("cy", function(d) { return Y(d[1]); })
    .attr("r", 1.3).attr("fill", MAG);

  // fits
  var f = p.fit;
  [[0, null], [f[2], "4,2.5"], [-f[3], "4,2.5"]].forEach(function(o) {
    var ln = plot.append("line")
      .attr("x1", x(fitRange[0])).attr("x2", x(fitRange[1]))
      .attr("y1", Y(f[0] * (fitRange[0] - 10) + f[1] + o[0]))
      .attr("y2", Y(f[0] * (fitRange[1] - 10) + f[1] + o[0]))
      .attr("stroke", FIT).attr("stroke-width", 1.5).attr("stroke-opacity", 0.9);
    if (o[1]) ln.attr("stroke-dasharray", o[1]);
  });

  // censored / missing labels with translucent white box
  function boxLabel(segs, yb, color) {
    var lg = g.append("g");
    var t = rich(lg, right - 9, yb, segs, 7.6, "end").attr("fill", color);
    var bb = t.node().getBBox();
    lg.insert("rect", "text").attr("x", bb.x - 4).attr("y", bb.y - 2)
      .attr("width", bb.width + 8).attr("height", bb.height + 4)
      .attr("fill", "#fff").attr("fill-opacity", 0.8);
  }
  boxLabel(p.cens_lab, 211, TEAL);
  if (p.miss_lab) boxLabel(p.miss_lab, 233, MAG);

  // title, equation
  g.append("text").attr("x", p.left + 5).attr("y", 17.5).attr("font-size", 11).text(p.title);
  rich(g, p.left + 5, 29.5, p.eq, 8.4);
  rich(g, p.left + 5, 41, [["\u0394"], ["+", "b"], [" = " + p.dp]], 8.6);
  rich(g, p.left + 5, 51.5, [["\u0394"], ["\u2212", "b"], [" = " + p.dm]], 8.6);

  // legend
  var lx = right - 24;
  g.append("text").attr("x", lx).attr("y", 13).attr("font-size", 6.8).attr("text-anchor", "end").text("Observed");
  g.append("circle").attr("cx", right - 12).attr("cy", 10.8).attr("r", 1.6).attr("fill", BLUE).attr("fill-opacity", 0.5);
  g.append("text").attr("x", lx).attr("y", 23.3).attr("font-size", 6.8).attr("text-anchor", "end").text("Peak position");
  g.append("line").attr("x1", right - 21).attr("x2", right - 3).attr("y1", 21).attr("y2", 21)
    .attr("stroke", FIT).attr("stroke-width", 1.5);
  rich(g, lx, 33.6, [["Scatter (\u0394"], ["\u00b1", "b"], [")"]], 6.8, "end");
  g.append("line").attr("x1", right - 21).attr("x2", right - 3).attr("y1", 31.3).attr("y2", 31.3)
    .attr("stroke", FIT).attr("stroke-width", 1.5).attr("stroke-dasharray", "4,2.5");

  // axes
  var xa = g.append("g").attr("transform", "translate(0," + plotBottom + ")")
    .call(d3.axisBottom(x).tickValues(xTicks).tickFormat(d3.format(".1f")).tickSize(3.5).tickPadding(2));
  var minorX = d3.range(88, 117).map(function(v) { return v / 10; }).filter(function(v) { return xTicks.indexOf(v) < 0; });
  var xm = g.append("g").attr("transform", "translate(0," + plotBottom + ")")
    .call(d3.axisBottom(x).tickValues(minorX).tickFormat(noLabel).tickSize(2));

  var yTicks = p.id == "a" ? yTicksA : yTicksGas;
  var ya = g.append("g").attr("transform", "translate(" + p.left + ",0)")
    .call(d3.axisLeft(y).tickValues(yTicks).tickSize(3.5).tickPadding(2).tickFormat(noLabel));
  var minorY = [];
  for (var e = Math.floor(p.ydom[0]); e <= Math.ceil(p.ydom[1]); e++)
    for (var m = 2; m < 10; m++) {
      var v = m * Math.pow(10, e);
      if (Math.log10(v) > p.ydom[0] && Math.log10(v) < p.ydom[1]) minorY.push(v);
    }
  var ym = g.append("g").attr("transform", "translate(" + p.left + ",0)")
    .call(d3.axisLeft(y).tickValues(minorY).tickFormat(noLabel).tickSize(2));

  [xa, xm, ya, ym].forEach(function(a) {
    a.select(".domain").remove();
    a.selectAll("line").attr("stroke", "#333").attr("stroke-width", 0.8);
    a.selectAll("text").attr("font-size", 10).attr("font-family", "DejaVu Sans").attr("fill", "#000");
  });
  ya.selectAll(".tick").each(function(d, i) {
    var t = d3.select(this).select("text").text(null);
    if (p.id == "a") t.text(yTickLabelsA[i]);
    else {
      t.append("tspan").text("10");
      t.append("tspan").attr("font-size", 7).attr("dy", -4.5).text(Math.round(Math.log10(d)));
    }
  });

  g.append("rect").attr("x", p.left).attr("y", plotTop).attr("width", pw).attr("height", plotBottom - plotTop)
    .attr("fill", "none").attr("stroke", "#333").attr("stroke-width", 0.8);

  // axis labels
  rich(g, p.left + pw / 2 + 2, 273, mstar.concat([[" [ M"], ["\u2299", "b"], [" ]"]]), 11, "middle");
  var ylx = p.id == "a" ? 12 : p.left - 33;
  var yg = g.append("g").attr("transform", "translate(" + ylx + "," + ((plotTop + plotBottom) / 2) + ") rotate(-90)");
  rich(yg, 0, 0, p.ylab, 11, "middle");

  g.append("text").attr("x", p.id == "a" ? 3 : p.left - 43).attr("y", 15)
    .attr("font-size", 15).attr("font-weight", "bold").text(p.id);
});
</script>
</body>
</html>
